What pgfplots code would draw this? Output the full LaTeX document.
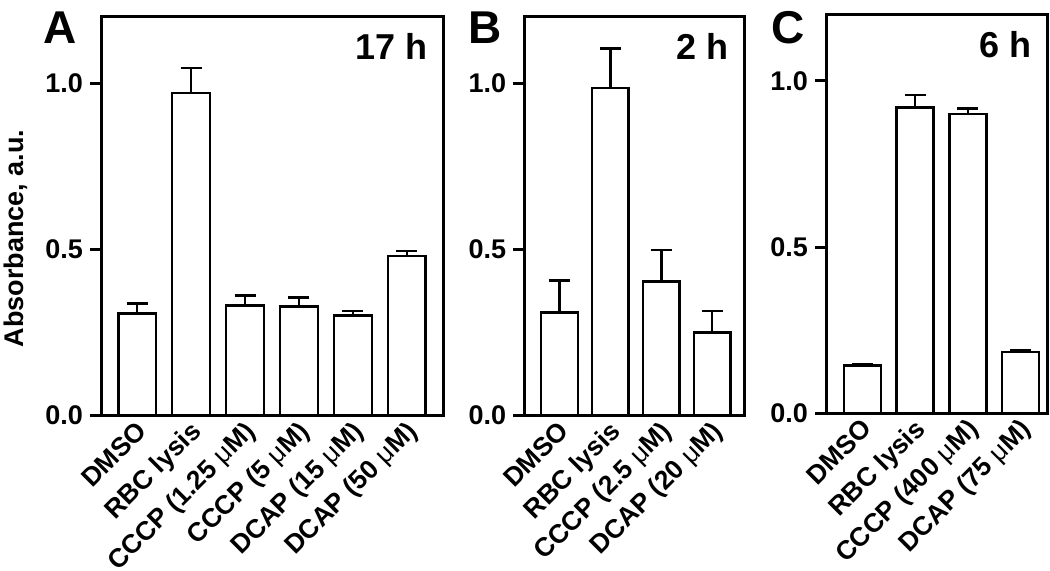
\documentclass[border=0pt]{standalone}
\usepackage{fontspec}
\setmainfont{Liberation Sans}
\usepackage{pgfplots}
\pgfplotsset{compat=1.18}
\newcommand{\mum}{{\mdseries μ}M}
\pgfplotsset{
  panel/.style={
    scale only axis, ymin=0, ymax=1.2, height=199.5pt,
    axis line style={line width=1.5pt},
    ytick={0,0.5,1},
    yticklabel style={font=\fontsize{13.5}{16}\selectfont\bfseries},
    y tick label style={/pgf/number format/fixed, /pgf/number format/fixed zerofill, /pgf/number format/precision=1, /pgf/number format/assume math mode=true},
    ytick pos=left, tick align=outside, major tick length=5.5pt,
    ytick style={line width=1.5pt, black},
    xtick=data, xtick style={draw=none},
    xticklabel style={rotate=45, anchor=north east, font=\fontsize{13.2}{16}\selectfont\bfseries, inner sep=0pt, yshift=3.5pt, xshift=2pt},
    ybar,
  },
  barst/.style={fill=white, draw=black, line width=1.25pt,
    error bars/.cd, y dir=plus, y explicit,
    error bar style={line width=1.25pt, black},
    error mark options={rotate=90, line width=1.25pt, mark size=5.25pt, black}},
}
\tikzset{tlab/.style={anchor=base east, xshift=-7.5pt, yshift=-21.5pt, font=\fontsize{18}{20}\selectfont\bfseries, inner sep=0pt}}
\begin{document}
\begin{tikzpicture}
\useasboundingbox (0,0) rectangle (525pt,285.5pt);
% Panel A
\begin{axis}[panel, at={(50.5pt,77.65pt)}, anchor=south west, width=171pt,
  xmin=-0.67, xmax=5.67, bar width=0.7,
  xticklabels={DMSO, RBC lysis, CCCP (1.25 \mum), CCCP (5 \mum), DCAP (15 \mum), DCAP (50 \mum)}]
\addplot[barst] coordinates {
 (0,0.308) +- (0,0.030)
 (1,0.970) +- (0,0.075)
 (2,0.331) +- (0,0.030)
 (3,0.328) +- (0,0.028)
 (4,0.301) +- (0,0.014)
 (5,0.481) +- (0,0.014)
};
\node[tlab] at (rel axis cs:1,1) {17 h};
\end{axis}
% Panel B
\begin{axis}[panel, at={(262.15pt,77.65pt)}, anchor=south west, width=110pt,
  xmin=-0.69, xmax=3.63, bar width=0.72,
  xticklabels={DMSO, RBC lysis, CCCP (2.5 \mum), DCAP (20 \mum)}]
\addplot[barst] coordinates {
 (0,0.310) +- (0,0.096)
 (1,0.985) +- (0,0.120)
 (2,0.403) +- (0,0.095)
 (3,0.250) +- (0,0.065)
};
\node[tlab] at (rel axis cs:1,1) {2 h};
\end{axis}
% Panel C
\begin{axis}[panel, at={(413pt,78.85pt)}, anchor=south west, width=110.5pt,
  xmin=-0.69, xmax=3.50, bar width=0.70,
  xticklabels={DMSO, RBC lysis, CCCP (400 \mum), DCAP (75 \mum)}]
\addplot[barst] coordinates {
 (0,0.143) +- (0,0.005)
 (1,0.919) +- (0,0.038)
 (2,0.900) +- (0,0.017)
 (3,0.185) +- (0,0.005)
};
\node[tlab] at (rel axis cs:1,1) {6 h};
\end{axis}
\node[anchor=base west, inner sep=0pt, font=\fontsize{23}{25}\selectfont\bfseries] at (21.5pt,263.5pt) {A};
\node[anchor=base west, inner sep=0pt, font=\fontsize{23}{25}\selectfont\bfseries] at (234pt,263.5pt) {B};
\node[anchor=base west, inner sep=0pt, font=\fontsize{23}{25}\selectfont\bfseries] at (385.5pt,263.5pt) {C};
\node[rotate=90, font=\fontsize{13.5}{15}\selectfont\bfseries] at (8pt,166.25pt) {Absorbance, a.u.};
\end{tikzpicture}
\end{document}
